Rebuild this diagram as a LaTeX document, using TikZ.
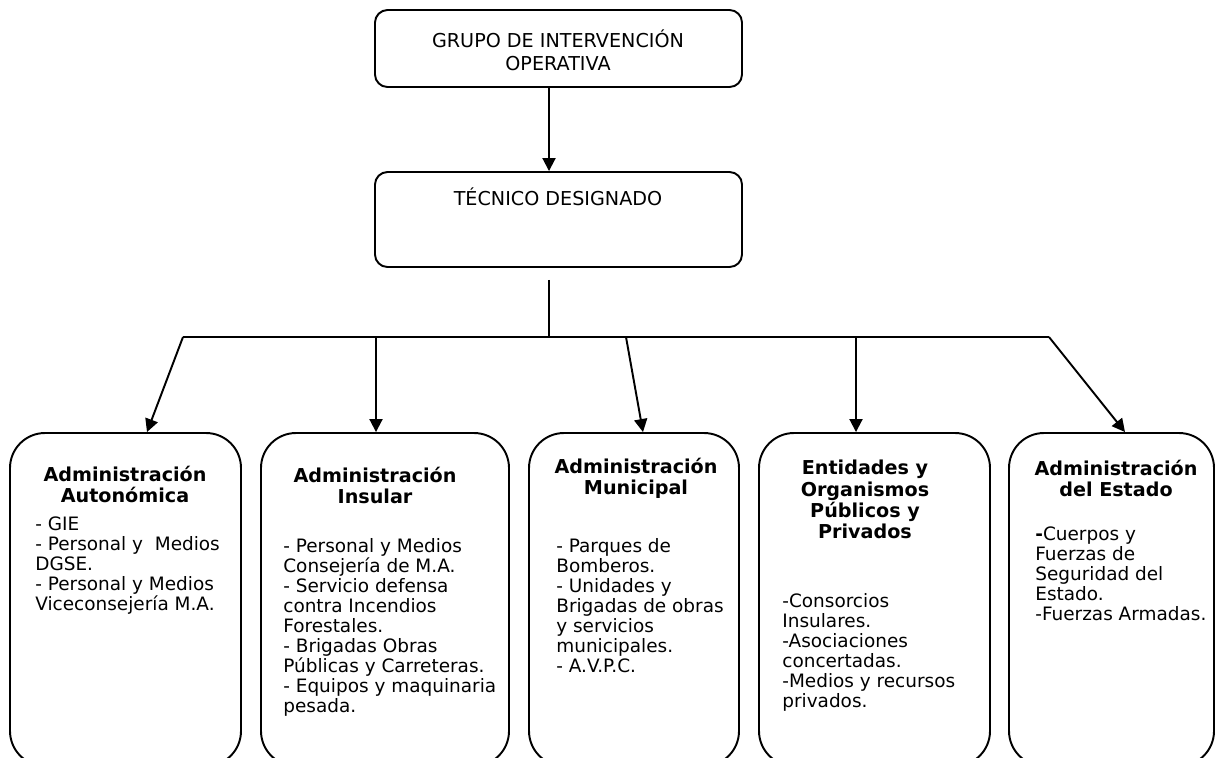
\documentclass[tikz,border=0pt]{standalone}
\usepackage{fontspec}
\setmainfont{DejaVu Sans}
\usetikzlibrary{arrows.meta}
\usetikzlibrary{calc}

\begin{document}
\begin{tikzpicture}[
    caja/.style={draw,line width=1.1pt,rounded corners=0.25cm,inner sep=0pt,minimum width=7.34cm},
    grande/.style={draw,line width=1.1pt,rounded corners=0.7cm,inner sep=0pt,minimum height=6.66cm},
    rotulo/.style={font=\fontsize{10.9}{13.1}\selectfont,align=center,inner sep=0pt,anchor=north},
    titulo/.style={font=\fontsize{10.9}{12}\selectfont\bfseries,align=center,inner sep=0pt,anchor=north},
    lista/.style={font=\fontsize{10.5}{11.4}\selectfont,align=left,inner sep=0pt,anchor=north west},
    flecha/.style={line width=1.1pt,-{Triangle[length=0.26cm,width=0.26cm]}},
    linea/.style={line width=1.1pt}]
    %%% ORGANIGRAMA %%%
    % page %
    \useasboundingbox (0,0) rectangle (24.34,-15.14);
    \clip (0,0) rectangle (24.34,-15.14);
    % upper boxes %
    \node[caja,minimum height=1.54cm] (grupo) at (11.17,-0.97){};
    \node[rotulo] (grupotxt) at (11.16,-0.58){GRUPO DE INTERVENCIÓN\\OPERATIVA};
    \node[caja,minimum height=1.90cm] (tecnico) at (11.17,-4.39){};
    \node[rotulo] (tecnicotxt) at (11.16,-3.74){TÉCNICO DESIGNADO};
    % lower boxes %
    \node[grande,minimum width=4.62cm] (aut) at (2.51,-11.99){};
    \node[grande,minimum width=4.96cm] (ins) at (7.70,-11.99){};
    \node[grande,minimum width=4.20cm] (mun) at (12.68,-11.99){};
    \node[grande,minimum width=4.62cm] (ent) at (17.49,-11.99){};
    \node[grande,minimum width=4.10cm] (est) at (22.23,-11.99){};
    % titles %
    \node[titulo] (auttit) at (2.50,-9.32){Administración\\Autonómica};
    \node[titulo] (instit) at (7.50,-9.34){Administración\\Insular};
    \node[titulo] (muntit) at (12.72,-9.16){Administración\\Municipal};
    \node[titulo] (enttit) at (17.30,-9.20){Entidades y\\Organismos\\Públicos y\\Privados};
    \node[titulo] (esttit) at (22.32,-9.20){Administración\\del Estado};
    % lists %
    \node[lista] (autlst) at (0.70,-10.32){- GIE\\- Personal y~ Medios\\DGSE.\\- Personal y Medios\\Viceconsejería M.A.};
    \node[lista] (inslst) at (5.66,-10.76){- Personal y Medios\\Consejería de M.A.\\- Servicio defensa\\contra Incendios\\Forestales.\\- Brigadas Obras\\Públicas y Carreteras.\\- Equipos y maquinaria\\pesada.};
    \node[lista] (munlst) at (11.12,-10.76){- Parques de\\Bomberos.\\- Unidades y\\Brigadas de obras\\y servicios\\municipales.\\- A.V.P.C.};
    \node[lista] (entlst) at (15.64,-11.86){-Consorcios\\Insulares.\\-Asociaciones\\concertadas.\\-Medios y recursos\\privados.};
    \node[lista] (estlst) at (20.70,-10.52){\textbf{-}Cuerpos y\\Fuerzas de\\Seguridad del\\Estado.\\-Fuerzas Armadas.};
    % connectors %
    \coordinate (eje) at (10.98,0);
    \coordinate (b1) at (3.66,-6.74);
    \coordinate (b2) at (7.52,-6.74);
    \coordinate (b3) at (12.52,-6.74);
    \coordinate (b4) at (17.12,-6.74);
    \coordinate (b5) at (20.98,-6.74);
    \draw[flecha] (grupo.south -| eje) -- (tecnico.north -| eje);
    \draw[linea,shorten <=0.24cm] (tecnico.south -| eje) -- (b1 -| eje);
    \draw[linea] (b1) -- (b5);
    \draw[flecha] (b1) -- ($(aut.north)+(0.43,0)$);
    \draw[flecha] (b2) -- (b2 |- ins.north);
    \draw[flecha] (b3) -- ($(mun.north)+(0.18,0)$);
    \draw[flecha] (b4) -- (b4 |- ent.north);
    \draw[flecha] (b5) -- ($(est.north)+(0.27,0)$);
\end{tikzpicture}
\end{document}
